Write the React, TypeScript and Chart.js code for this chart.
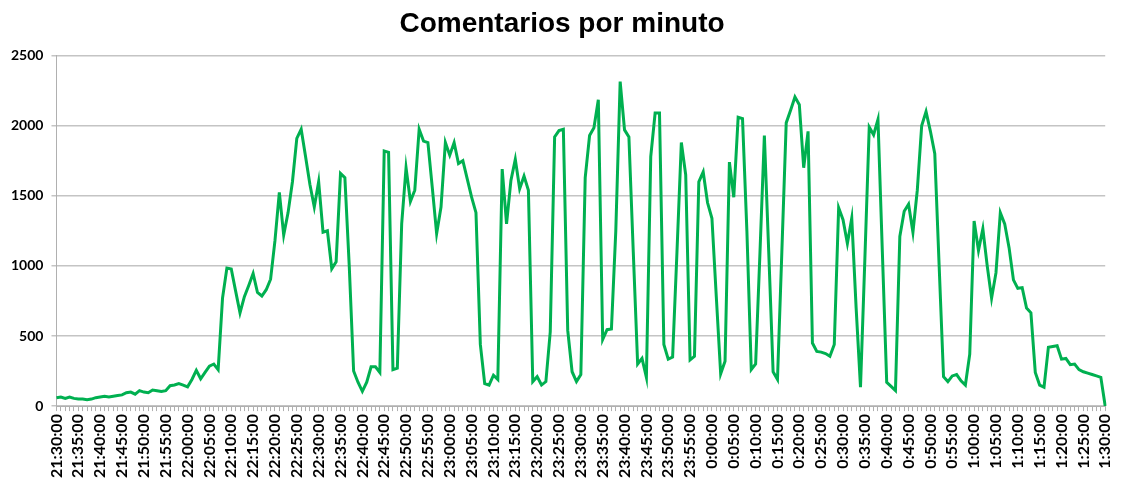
import React, { useEffect, useRef } from "react";
import { Chart, registerables } from "chart.js";

Chart.register(...registerables);

const TITLE = "Comentarios por minuto";
const START_HOUR = 21;
const START_MINUTE = 30;
const MINUTES = 241;

const Y_TICKS = [0, 500, 1000, 1500, 2000, 2500];

// comments per minute, 21:30:00 .. 1:30:00
const commentsPerMinute = [
  60,
  65, 55, 65, 55, 50, 50, 45, 50, 60, 65,
  70, 65, 70, 75, 80, 95, 100, 85, 110, 100,
  95, 115, 110, 105, 110, 145, 150, 160, 150, 137,
  190, 255, 195, 240, 285, 300, 260, 770, 985, 978,
  820, 665, 780, 860, 945, 810, 785, 830, 905, 1180,
  1525, 1220, 1380, 1600, 1910, 1975, 1780, 1580, 1420, 1600,
  1240, 1250, 980, 1030, 1660, 1630, 1000, 250, 170, 105,
  170, 280, 280, 240, 1820, 1810, 260, 270, 1300, 1700,
  1460, 1540, 1975, 1890, 1880, 1560, 1230, 1420, 1880, 1790,
  1880, 1730, 1750, 1620, 1490, 1380, 440, 160, 150, 220,
  190, 1690, 1300, 1610, 1760, 1550, 1640, 1540, 175, 210,
  150, 175, 530, 1920, 1965, 1975, 540, 245, 175, 225,
  1630, 1930, 1985, 2185, 475, 545, 550, 1250, 2315, 1970,
  1920, 1100, 300, 340, 205, 1780, 2090, 2090, 440, 335,
  350, 1100, 1880, 1650, 330, 355, 1600, 1670, 1450, 1340,
  780, 230, 320, 1740, 1490, 2060, 2050, 1250, 260, 300,
  1100, 1930, 1100, 245, 190, 1100, 2020, 2110, 2205, 2150,
  1700, 1960, 450, 390, 385, 375, 355, 440, 1415, 1330,
  1160, 1340, 700, 135, 1050, 1990, 1935, 2045, 1100, 170,
  140, 110, 1210, 1390, 1440, 1240, 1540, 2000, 2100, 1960,
  1800, 1000, 210, 175, 215, 225, 180, 150, 370, 1320,
  1110, 1265, 1000, 770, 950, 1380, 1300, 1130, 900, 840,
  845, 700, 665, 240, 150, 135, 420, 425, 430, 335,
  340, 295, 300, 260, 245, 235, 225, 215, 205,
  0,
];

const minuteLabels: string[] = [];
for (let i = 0; i < MINUTES; i++) {
  const t = (START_HOUR * 60 + START_MINUTE + i) % 1440;
  const h = Math.floor(t / 60);
  const m = t % 60;
  minuteLabels.push(`${h}:${m < 10 ? "0" + m : m}:00`);
}

export default function App() {
  const ref = useRef<HTMLCanvasElement | null>(null);

  useEffect(() => {
    if (!ref.current) return;
    const chart = new Chart(ref.current, {
      type: "line",
      data: {
        labels: minuteLabels,
        datasets: [
          {
            data: commentsPerMinute,
            borderColor: "#00b050",
            borderWidth: 3,
            pointRadius: 0,
            tension: 0,
            fill: false,
          },
        ],
      },
      options: {
        responsive: false,
        animation: false,
        layout: { padding: { left: 3, right: 0, top: 0, bottom: 0 } },
        plugins: {
          legend: { display: false },
          tooltip: { enabled: false },
          title: {
            display: true,
            text: TITLE,
            color: "#000",
            font: { family: "'Liberation Sans', Arial, sans-serif", size: 28, weight: "bold" },
            padding: { top: 7, bottom: 15 },
          },
        },
        scales: {
          x: {
            type: "category",
            offset: false,
            grid: {
              display: true,
              drawOnChartArea: false,
              drawTicks: true,
              tickLength: 5,
              color: "#b0b0b0",
            },
            border: { display: true, color: "#b0b0b0" },
            ticks: {
              autoSkip: false,
              maxRotation: 90,
              minRotation: 90,
              padding: 3,
              color: "#000",
              font: { family: "Lato, 'Liberation Sans', sans-serif", size: 16, weight: "bold", lineHeight: 0.8 },
              callback: (_v: any, i: number) => (i % 5 === 0 ? minuteLabels[i] : ""),
            },
          },
          y: {
            min: 0,
            max: 2500,
            afterBuildTicks: (axis: any) => {
              axis.ticks = Y_TICKS.map((v) => ({ value: v }));
            },
            grid: {
              display: true,
              drawTicks: true,
              tickLength: 5,
              color: "#c4c4c4",
              lineWidth: 1.5,
            },
            border: { display: true, color: "#b0b0b0" },
            ticks: {
              padding: 8,
              color: "#000",
              font: { family: "Lato, 'Liberation Sans', sans-serif", size: 14, weight: "bold" },
              callback: (v: any) => String(v),
            },
          },
        },
      },
    });
    return () => chart.destroy();
  }, []);

  return (
    <div style={{ position: "fixed", left: 0, top: 0, width: 1121, height: 481, background: "#fff" }}>
      <canvas ref={ref} width={1121} height={481} style={{ width: 1121, height: 481 }} />
    </div>
  );
}
